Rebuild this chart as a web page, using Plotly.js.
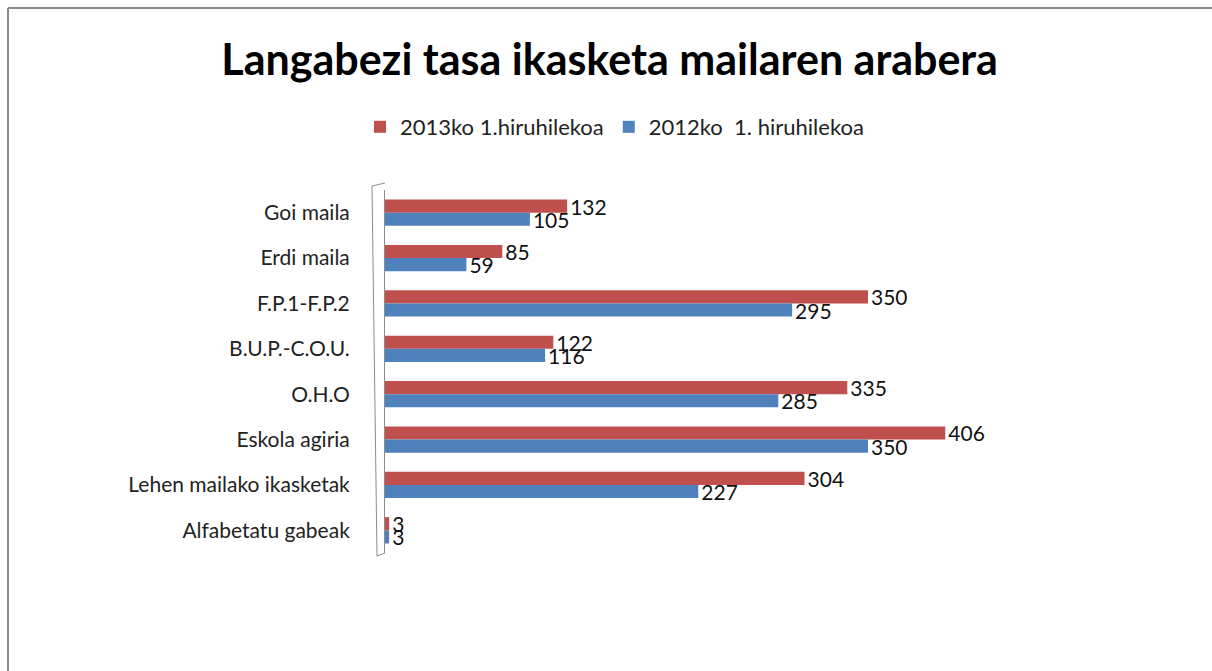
<!DOCTYPE html>
<html><head><meta charset="utf-8">
<script src="https://cdn.plot.ly/plotly-3.0.1.min.js"></script>
<style>html,body{margin:0;padding:0;background:#fff}#chart{width:1212px;height:671px}</style>
</head><body><div id="chart"></div>
<script>
const categories = ["Goi maila","Erdi maila","F.P.1-F.P.2","B.U.P.-C.O.U.","O.H.O","Eskola agiria","Lehen mailako ikasketak","Alfabetatu gabeak"];
const series2013 = [132,85,350,122,335,406,304,3];
const series2012 = [105,59,295,116,285,350,227,3];
const seriesNames = ["2013ko 1.hiruhilekoa","2012ko\u00a0 1. hiruhilekoa"];
const chartTitle = "Langabezi tasa ikasketa mailaren arabera";

const W = 1212, H = 671;
const mL = 385, mR = 206, mT = 190, mB = 118;
const pw = W - mL - mR, ph = H - mT - mB;
const px = v => (v - mL) / pw;
const py = v => (H - mB - v) / ph;

const mk = (vals, name, color) => ({
  type: 'bar', orientation: 'h', y: categories, x: vals, name: name,
  marker: {color: color},
  text: vals.map(String), textposition: 'outside', constraintext: 'none',
  cliponaxis: false,
  textfont: {family: 'Lato, sans-serif', size: 21, color: '#111'},
  hoverinfo: 'x+y'
});

const data = [
  mk(series2013, seriesNames[0], '#C0504D'),
  mk(series2012, seriesNames[1], '#4F81BD')
];

const layout = {
  width: W, height: H,
  margin: {l: mL, r: mR, t: mT, b: mB, pad: 0},
  paper_bgcolor: '#fff', plot_bgcolor: '#fff',
  font: {family: 'Lato, sans-serif', color: '#222'},
  title: {text: '<b>' + chartTitle + '</b>', font: {family: 'Lato, sans-serif', size: 43, color: '#000'},
          x: 0.503, xref: 'container', xanchor: 'center', y: 1 - 60/H, yref: 'container', yanchor: 'middle'},
  barmode: 'group', bargap: 0.42, bargroupgap: 0,
  showlegend: true,
  legend: {orientation: 'h', x: 0.507, xref: 'container', xanchor: 'center', y: 1 - 127/H, yref: 'container', yanchor: 'middle',
           font: {size: 22, color: '#222'}, traceorder: 'normal', itemwidth: 30},
  xaxis: {range: [0, 450], showticklabels: false, showgrid: false, zeroline: false, showline: false, ticks: ''},
  yaxis: {type: 'category', autorange: 'reversed', showline: true, linecolor: '#8c8c8c', linewidth: 1,
          showgrid: false, ticks: '', ticklabelstandoff: 30, tickfont: {size: 21, color: '#222'}},
  shapes: [
    {type: 'line', xref: 'paper', yref: 'paper', x0: px(8), x1: px(8), y0: py(8), y1: py(H + 5), line: {color: '#8a8a8a', width: 2}},
    {type: 'line', xref: 'paper', yref: 'paper', x0: px(8), x1: px(W + 5), y0: py(8), y1: py(8), line: {color: '#8a8a8a', width: 2}},
    {type: 'path', xref: 'paper', yref: 'paper',
     path: 'M ' + px(385) + ',' + py(183) + ' L ' + px(372) + ',' + py(186) + ' L ' + px(377) + ',' + py(556) + ' L ' + px(385) + ',' + py(553),
     line: {color: '#8c8c8c', width: 1}}
  ]
};

Plotly.newPlot('chart', data, layout, {displayModeBar: false, staticPlot: true});
</script>
</body></html>
